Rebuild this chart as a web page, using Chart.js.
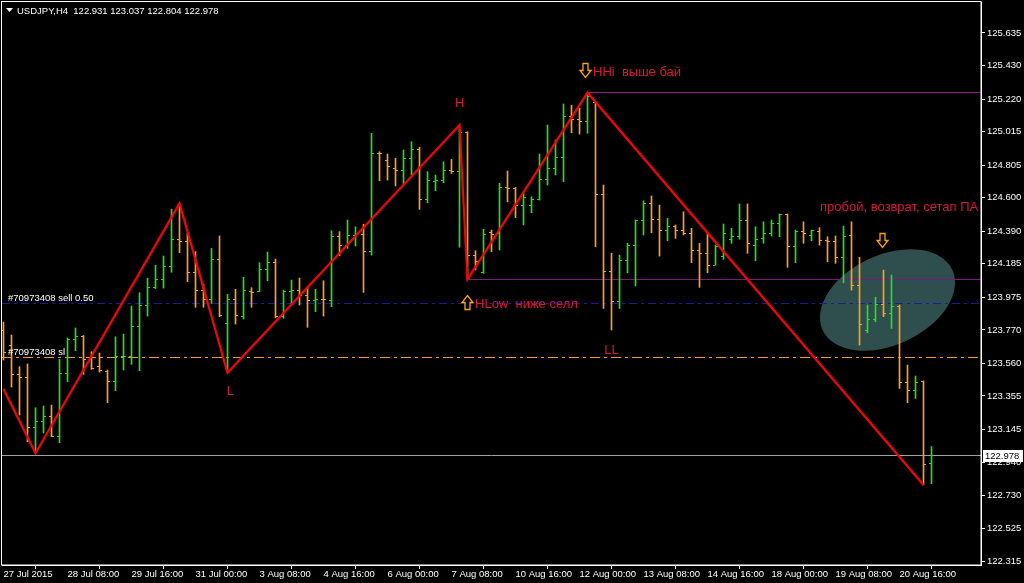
<!DOCTYPE html>
<html>
<head>
<meta charset="utf-8">
<script src="https://cdn.jsdelivr.net/npm/chart.js@4.4.1/dist/chart.umd.min.js"></script>
<style>
html,body{margin:0;padding:0;background:#000;overflow:hidden;}
#wrap{width:1024px;height:583px;position:relative;}
canvas{display:block;}
</style>
</head>
<body>
<div id="wrap"><canvas id="c" width="1024" height="583"></canvas></div>
<script>
// ---------------- data ----------------
const symbol = 'USDJPY,H4';
const xTickBars = [0, 8, 16, 24, 32, 40, 48, 56, 64, 72, 80, 88, 96, 104, 112];
const xTickLabels = ['27 Jul 2015', '28 Jul 08:00', '29 Jul 16:00', '31 Jul 00:00', '3 Aug 08:00', '4 Aug 16:00',
  '6 Aug 00:00', '7 Aug 08:00', '10 Aug 16:00', '12 Aug 00:00', '13 Aug 08:00', '14 Aug 16:00',
  '18 Aug 00:00', '19 Aug 08:00', '20 Aug 16:00'];
const yTicks = [125.635, 125.430, 125.220, 125.015, 124.805, 124.600, 124.390, 124.185, 123.975,
  123.770, 123.560, 123.355, 123.145, 122.940, 122.730, 122.525, 122.315];

const opens = [
  123.769, 123.675, 123.487, 123.474, 123.154, 123.193, 123.229, 123.103, 123.497, 123.711,
  123.727, 123.581, 123.539, 123.507, 123.444, 123.601, 123.606, 123.794, 123.926, 124.037,
  124.088, 124.171, 124.335, 124.324, 124.129, 124.020, 123.958, 124.213, 123.810, 123.962,
  123.853, 124.010, 124.010, 124.150, 124.192, 123.853, 124.010, 124.016, 123.983, 123.953,
  123.964, 123.953, 124.355, 124.303, 124.366, 124.372, 124.264, 124.879, 124.837, 124.785,
  124.774, 124.848, 124.906, 124.586, 124.700, 124.711, 124.774, 124.762, 125.008, 124.240,
  124.129, 124.380, 124.377, 124.666, 124.659, 124.554, 124.554, 124.590, 124.716, 124.785,
  124.854, 125.113, 125.093, 125.077, 125.197, 124.623, 124.135, 123.947, 124.204, 124.303,
  124.456, 124.564, 124.465, 124.393, 124.418, 124.397, 124.377, 124.267, 124.247, 124.177,
  124.234, 124.335, 124.355, 124.460, 124.303, 124.345, 124.377, 124.439, 124.492, 124.292,
  124.387, 124.360, 124.387, 124.330, 124.324, 124.226, 124.366, 124.052, 123.769, 123.836,
  123.932, 123.874, 123.920, 123.438, 123.392, 123.444, 122.931];
const highs = [
  123.819, 123.738, 123.539, 123.556, 123.281, 123.292, 123.298, 123.585, 123.719, 123.782,
  123.735, 123.633, 123.625, 123.518, 123.727, 123.744, 123.920, 124.003, 124.094, 124.177,
  124.234, 124.529, 124.565, 124.377, 124.261, 124.058, 124.282, 124.360, 123.993, 124.025,
  124.100, 124.035, 124.192, 124.259, 124.215, 124.020, 124.083, 124.096, 124.041, 124.025,
  124.079, 124.393, 124.387, 124.460, 124.418, 124.433, 125.005, 124.889, 124.875, 124.848,
  124.900, 124.952, 124.917, 124.764, 124.743, 124.826, 124.841, 125.057, 125.015, 124.267,
  124.402, 124.397, 124.691, 124.768, 124.665, 124.632, 124.606, 124.875, 125.057, 124.963,
  125.189, 125.182, 125.162, 125.260, 125.203, 124.680, 124.251, 124.240, 124.314, 124.460,
  124.581, 124.611, 124.554, 124.471, 124.429, 124.512, 124.408, 124.314, 124.377, 124.303,
  124.435, 124.408, 124.561, 124.561, 124.418, 124.449, 124.460, 124.498, 124.498, 124.397,
  124.449, 124.397, 124.412, 124.355, 124.360, 124.422, 124.449, 124.226, 123.926, 123.975,
  124.146, 124.115, 123.926, 123.549, 123.480, 123.450, 123.037];
const lows = [
  123.581, 123.411, 123.235, 123.068, 122.995, 123.122, 123.099, 123.061, 123.444, 123.639,
  123.491, 123.522, 123.505, 123.313, 123.388, 123.518, 123.554, 123.514, 123.857, 124.030,
  124.033, 124.132, 124.255, 124.073, 123.912, 123.912, 123.937, 123.853, 123.501, 123.807,
  123.838, 123.912, 124.010, 124.079, 123.846, 123.843, 123.926, 123.926, 123.786, 123.884,
  123.857, 123.916, 124.236, 124.282, 124.297, 124.006, 124.240, 124.707, 124.711, 124.674,
  124.686, 124.743, 124.527, 124.569, 124.644, 124.694, 124.753, 124.289, 124.088, 124.146,
  124.125, 124.261, 124.272, 124.575, 124.475, 124.429, 124.506, 124.586, 124.680, 124.743,
  124.701, 125.008, 125.000, 125.005, 124.292, 123.905, 123.769, 123.905, 124.129, 124.046,
  124.366, 124.380, 124.234, 124.330, 124.345, 124.366, 124.192, 124.037, 124.129, 124.177,
  124.213, 124.314, 124.339, 124.251, 124.204, 124.314, 124.360, 124.355, 124.163, 124.192,
  124.314, 124.330, 124.303, 124.198, 124.188, 124.066, 124.020, 123.675, 123.752, 123.821,
  123.853, 123.780, 123.403, 123.313, 123.340, 122.796, 122.804];
const closes = [
  123.631, 123.487, 123.474, 123.154, 123.193, 123.229, 123.103, 123.497, 123.711, 123.727,
  123.581, 123.530, 123.518, 123.444, 123.601, 123.606, 123.794, 123.926, 124.037, 124.088,
  124.171, 124.335, 124.324, 124.129, 124.020, 123.958, 124.213, 123.860, 123.962, 123.863,
  124.016, 124.006, 124.150, 124.192, 123.853, 124.010, 124.016, 123.983, 123.953, 123.964,
  123.958, 124.355, 124.303, 124.366, 124.372, 124.264, 124.879, 124.875, 124.795, 124.774,
  124.848, 124.906, 124.586, 124.707, 124.711, 124.774, 124.762, 125.008, 124.240, 124.198,
  124.372, 124.372, 124.666, 124.659, 124.554, 124.603, 124.590, 124.716, 124.785, 124.854,
  125.113, 125.093, 125.077, 125.235, 124.623, 124.135, 123.947, 124.204, 124.303, 124.456,
  124.564, 124.465, 124.397, 124.418, 124.397, 124.377, 124.267, 124.247, 124.177, 124.292,
  124.377, 124.355, 124.460, 124.314, 124.339, 124.377, 124.439, 124.492, 124.292, 124.387,
  124.377, 124.393, 124.330, 124.324, 124.226, 124.355, 124.052, 123.807, 123.836, 123.932,
  123.874, 123.920, 123.438, 123.392, 123.438, 122.926, 122.978];

const zigzagBars = [0, 4, 22, 28, 57, 58, 73, 115];
const zigzagPrices = [123.399, 122.995, 124.565, 123.501, 125.057, 124.088, 125.260, 122.796];

const hhiBar = 73, hhiLevel = 125.260;
const hlowBar = 58, hlowLevel = 124.088;
const sellLevel = 123.939, sellLabel = '#70973408 sell 0.50';
const slLevel = 123.597, slLabel = '#70973408 sl';
const bidLevel = 122.978;

// text annotations: bar, price (text baseline), text
const noteBars = [56.44, 73.69, 58.94, 27.9, 75.1, 102.06];
const notePrices = [125.168, 125.368, 123.907, 123.361, 123.618, 124.517];
const noteTexts = ['H', 'HHi  выше бай', 'HLow  ниже селл', 'L', 'LL', 'пробой, возврат, сетап ПА'];
// arrows: bar, price (centre), direction
const arrowBars = [72.69, 57.94, 109.75];
const arrowPrices = [125.402, 123.948, 124.334];
const arrowDirs = ['down', 'up', 'down'];
// highlighted zone (ellipse) centre
const zoneBar = 110.5, zonePrice = 123.958;

// ---------------- styling ----------------
const BULL = '#22e022', BEAR = '#ffa21a';
const FONT = '"Liberation Sans", Arial, sans-serif';
const X_MIN = -0.1875, X_MAX = -0.1875 + 979 / 8;

function tickImage(color, side) {
  const c = document.createElement('canvas');
  c.width = 5; c.height = 1;
  const g = c.getContext('2d');
  g.fillStyle = color;
  g.fillRect(side === 'left' ? 0 : 3, 0, 2, 1);
  return c;
}
const imgs = {
  bullL: tickImage(BULL, 'left'), bullR: tickImage(BULL, 'right'),
  bearL: tickImage(BEAR, 'left'), bearR: tickImage(BEAR, 'right')
};
const isBull = i => closes[i] >= opens[i];
const barColors = opens.map((o, i) => isBull(i) ? BULL : BEAR);

const levelLine = (x0, y, color, dash) => ({
  type: 'line',
  data: [{x: x0, y: y}, {x: X_MAX, y: y}],
  borderColor: color, borderWidth: 1, borderDash: dash || [],
  pointRadius: 0, order: 3, clip: 0, snapLevel: y
});

const annotationPlugin = {
  id: 'mtAnnotations',
  beforeDraw(chart) {
    const ctx = chart.ctx;
    ctx.save();
    ctx.fillStyle = '#000';
    ctx.fillRect(0, 0, chart.width, chart.height);
    ctx.restore();
  },
  beforeDatasetsDraw(chart) {
    const {ctx, chartArea: a, scales: {x, y}} = chart;
    ctx.save();
    ctx.beginPath();
    ctx.rect(a.left, a.top, a.right - a.left, a.bottom - a.top);
    ctx.clip();
    ctx.fillStyle = '#2f4f4f';
    ctx.beginPath();
    ctx.ellipse(x.getPixelForValue(zoneBar), y.getPixelForValue(zonePrice), 71.5, 45, -25 * Math.PI / 180, 0, Math.PI * 2);
    ctx.fill();
    ctx.restore();
  },
  beforeDatasetDraw(chart, args) {
    const ds = chart.data.datasets[args.index];
    if (ds.snapLevel !== undefined) {
      const py = chart.scales.y.getPixelForValue(ds.snapLevel);
      chart.ctx.save();
      chart.ctx.translate(0, Math.floor(py) + 0.5 - py);
    }
  },
  afterDatasetDraw(chart, args) {
    const ds = chart.data.datasets[args.index];
    if (ds.snapLevel !== undefined) chart.ctx.restore();
  },
  afterDatasetsDraw(chart) {
    const {ctx, chartArea: a, scales: {x, y}} = chart;
    ctx.save();
    ctx.beginPath();
    ctx.rect(a.left, a.top, a.right - a.left, a.bottom - a.top);
    ctx.clip();
    // order line labels
    ctx.font = '9.5px ' + FONT;
    ctx.fillStyle = '#ffffff';
    ctx.textBaseline = 'alphabetic';
    ctx.textAlign = 'left';
    ctx.fillText(sellLabel, 8, Math.floor(y.getPixelForValue(sellLevel)) - 2);
    ctx.fillText(slLabel, 8, Math.floor(y.getPixelForValue(slLevel)) - 2);
    // crimson notes
    ctx.font = '13px ' + FONT;
    ctx.fillStyle = '#dc143c';
    noteTexts.forEach((t, i) => {
      ctx.fillText(t, x.getPixelForValue(noteBars[i]), y.getPixelForValue(notePrices[i]));
    });
    // arrows
    ctx.strokeStyle = '#ffa500';
    ctx.lineWidth = 1.3;
    arrowBars.forEach((b, i) => {
      const cx = Math.round(x.getPixelForValue(b)) + 0.5;
      const cy = Math.round(y.getPixelForValue(arrowPrices[i])) + 0.5;
      const s = arrowDirs[i] === 'down' ? 1 : -1;
      ctx.beginPath();
      ctx.moveTo(cx - 2.5, cy - 7 * s);
      ctx.lineTo(cx + 2.5, cy - 7 * s);
      ctx.lineTo(cx + 2.5, cy);
      ctx.lineTo(cx + 5.5, cy);
      ctx.lineTo(cx, cy + 7 * s);
      ctx.lineTo(cx - 5.5, cy);
      ctx.lineTo(cx - 2.5, cy);
      ctx.closePath();
      ctx.stroke();
    });
    ctx.restore();
  },
  afterDraw(chart) {
    const {ctx, chartArea: a, scales: {y}} = chart;
    ctx.save();
    // frame
    ctx.strokeStyle = '#ffffff';
    ctx.lineWidth = 1;
    ctx.strokeRect(a.left - 0.5, a.top - 0.5, a.right - a.left + 0.5, a.bottom - a.top + 0.5);
    // title
    ctx.fillStyle = '#ffffff';
    ctx.beginPath();
    ctx.moveTo(6, 8); ctx.lineTo(13, 8); ctx.lineTo(9.5, 12); ctx.closePath();
    ctx.fill();
    ctx.font = '9.5px ' + FONT;
    ctx.textBaseline = 'alphabetic';
    ctx.textAlign = 'left';
    const last = opens.length - 1;
    ctx.fillText(symbol + '  ' + opens[last].toFixed(3) + ' ' + highs[last].toFixed(3) + ' ' +
      lows[last].toFixed(3) + ' ' + closes[last].toFixed(3), 17, 14);
    // bid price box
    const py = Math.floor(y.getPixelForValue(bidLevel));
    ctx.fillStyle = '#ffffff';
    ctx.fillRect(a.right + 2, py - 5, 40, 12);
    ctx.fillStyle = '#000000';
    ctx.textBaseline = 'middle';
    ctx.fillText(bidLevel.toFixed(3), a.right + 4, py + 1.5);
    ctx.restore();
  }
};

const chart = new Chart(document.getElementById('c'), {
  type: 'line',
  data: {
    datasets: [
      {
        type: 'line',
        data: zigzagBars.map((b, i) => ({x: b, y: zigzagPrices[i]})),
        borderColor: '#ff0000', borderWidth: 2.2, pointRadius: 0, tension: 0, order: 0
      },
      {
        type: 'line',
        data: opens.map((v, i) => ({x: i, y: v})),
        showLine: false, pointRadius: 2, order: 1,
        pointStyle: c => isBull(c.dataIndex) ? imgs.bullL : imgs.bearL
      },
      {
        type: 'line',
        data: closes.map((v, i) => ({x: i, y: v})),
        showLine: false, pointRadius: 2, order: 1,
        pointStyle: c => isBull(c.dataIndex) ? imgs.bullR : imgs.bearR
      },
      {
        type: 'bar',
        data: lows.map((l, i) => ({x: i, y: [l, highs[i]]})),
        backgroundColor: barColors, borderWidth: 0, barThickness: 1, order: 2
      },
      levelLine(hhiBar, hhiLevel, '#8e1a8e'),
      levelLine(hlowBar, hlowLevel, '#7a1a7a'),
      levelLine(X_MIN, sellLevel, '#1a1aa8', [8, 4, 3, 4]),
      levelLine(X_MIN, slLevel, '#ff9a10', [10, 4, 3, 4]),
      levelLine(X_MIN, bidLevel, '#a0a0a0')
    ]
  },
  options: {
    responsive: false,
    animation: false,
    devicePixelRatio: 1,
    events: [],
    layout: {autoPadding: false, padding: {left: 2, top: 2, right: 0, bottom: 0}},
    plugins: {legend: {display: false}, tooltip: {enabled: false}},
    scales: {
      x: {
        type: 'linear', position: 'bottom', min: X_MIN, max: X_MAX, offset: false,
        afterBuildTicks: s => { s.ticks = xTickBars.map(v => ({value: v})); },
        afterFit: s => { s.height = 18; s.paddingLeft = 0; s.paddingRight = 0; },
        ticks: {
          autoSkip: false, maxRotation: 0, minRotation: 0, align: 'start', padding: 0,
          color: '#ffffff', font: {family: FONT, size: 9.5},
          callback: v => xTickLabels[xTickBars.indexOf(v)]
        },
        grid: {drawOnChartArea: false, drawTicks: true, tickLength: 4, color: '#ffffff'},
        border: {display: true, color: '#ffffff'}
      },
      y: {
        type: 'linear', position: 'right', min: 122.2933, max: 125.8297,
        afterBuildTicks: s => { s.ticks = yTicks.map(v => ({value: v})); },
        afterFit: s => { s.width = 43; s.paddingTop = 0; s.paddingBottom = 0; },
        ticks: {
          autoSkip: false, padding: 2, color: '#ffffff', font: {family: FONT, size: 9.5},
          callback: v => Number(v).toFixed(3)
        },
        grid: {drawOnChartArea: false, drawTicks: true, tickLength: 4, color: '#ffffff'},
        border: {display: true, color: '#ffffff'}
      }
    }
  },
  plugins: [annotationPlugin]
});
</script>
</body>
</html>
